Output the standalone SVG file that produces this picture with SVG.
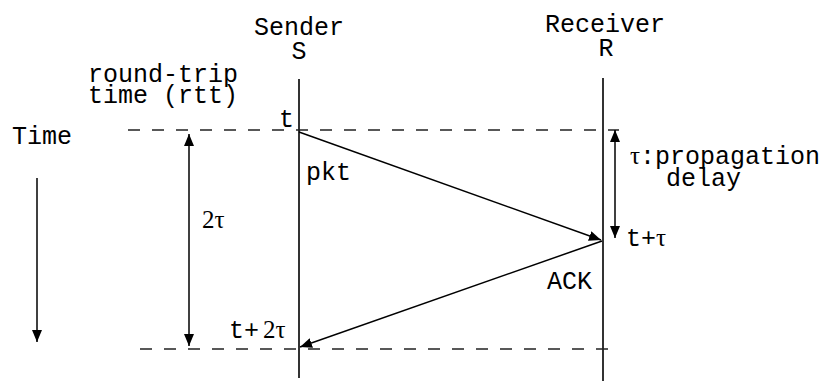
<svg xmlns="http://www.w3.org/2000/svg" width="839" height="381" viewBox="0 0 839 381">
  <style>
    .mono { font-family: "Liberation Mono", "Courier New", monospace; font-size: 25px; fill: #000; }
    .serif { font-family: "Liberation Serif", "Times New Roman", serif; font-size: 25px; }
    .life { stroke: #333; stroke-width: 2; fill: none; }
    .dash { stroke: #222; stroke-width: 1.5; stroke-dasharray: 12 12; fill: none; }
    .arrow { stroke: #000; stroke-width: 1.5; fill: none; marker-end: url(#head); }
  </style>
  <defs>
    <marker id="head" viewBox="0 0 12 10" refX="12" refY="5" markerWidth="12" markerHeight="10" markerUnits="userSpaceOnUse" orient="auto-start-reverse">
      <path d="M0,0 L12,5 L0,10 Z" fill="#000"/>
    </marker>
  </defs>
  <rect width="839" height="381" fill="#fff"/>

  <!-- sender lifeline -->
  <g id="sender">
    <text class="mono" x="299" y="35" text-anchor="middle">Sender</text>
    <text class="mono" x="299" y="59" text-anchor="middle">S</text>
    <line class="life" x1="299" y1="79" x2="299" y2="378"/>
    <text class="mono" x="279" y="127">t</text>
  </g>

  <!-- receiver lifeline -->
  <g id="receiver">
    <text class="mono" x="605" y="32" text-anchor="middle">Receiver</text>
    <text class="mono" x="606" y="56" text-anchor="middle">R</text>
    <line class="life" x1="603" y1="78" x2="603" y2="381"/>
  </g>

  <!-- time reference lines -->
  <g id="time-marks">
    <line class="dash" x1="128" y1="130" x2="619" y2="130"/>
    <line class="dash" x1="140" y1="349" x2="612" y2="349"/>
  </g>

  <g id="labels">
    <text class="mono" x="88" y="82">round-trip</text>
    <text class="mono" x="88" y="103">time (rtt)</text>
    <text class="mono" x="12" y="144">Time</text>
    <text class="mono" x="306" y="180">pkt</text>
    <text class="serif" x="202" y="228">2τ</text>
    <text x="229" y="338"><tspan class="mono">t+</tspan><tspan class="serif" dx="4">2τ</tspan></text>
    <text x="630" y="164"><tspan class="serif">τ</tspan><tspan class="mono">:propagation</tspan></text>
    <text class="mono" x="666" y="186">delay</text>
    <text x="626" y="246"><tspan class="mono">t+</tspan><tspan class="serif">τ</tspan></text>
    <text class="mono" x="547" y="289">ACK</text>
  </g>

  <!-- connectors -->
  <g id="connectors">
    <line class="arrow" x1="299" y1="132" x2="601" y2="240"/>
    <line class="arrow" x1="602" y1="241" x2="300" y2="347"/>
    <line class="arrow" x1="37" y1="178" x2="37" y2="342"/>
    <line class="arrow" x1="189" y1="240" x2="189" y2="134"/>
    <line class="arrow" x1="189" y1="240" x2="189" y2="346"/>
    <line class="arrow" x1="615" y1="185" x2="615" y2="130"/>
    <line class="arrow" x1="615" y1="185" x2="615" y2="238"/>
  </g>
</svg>
